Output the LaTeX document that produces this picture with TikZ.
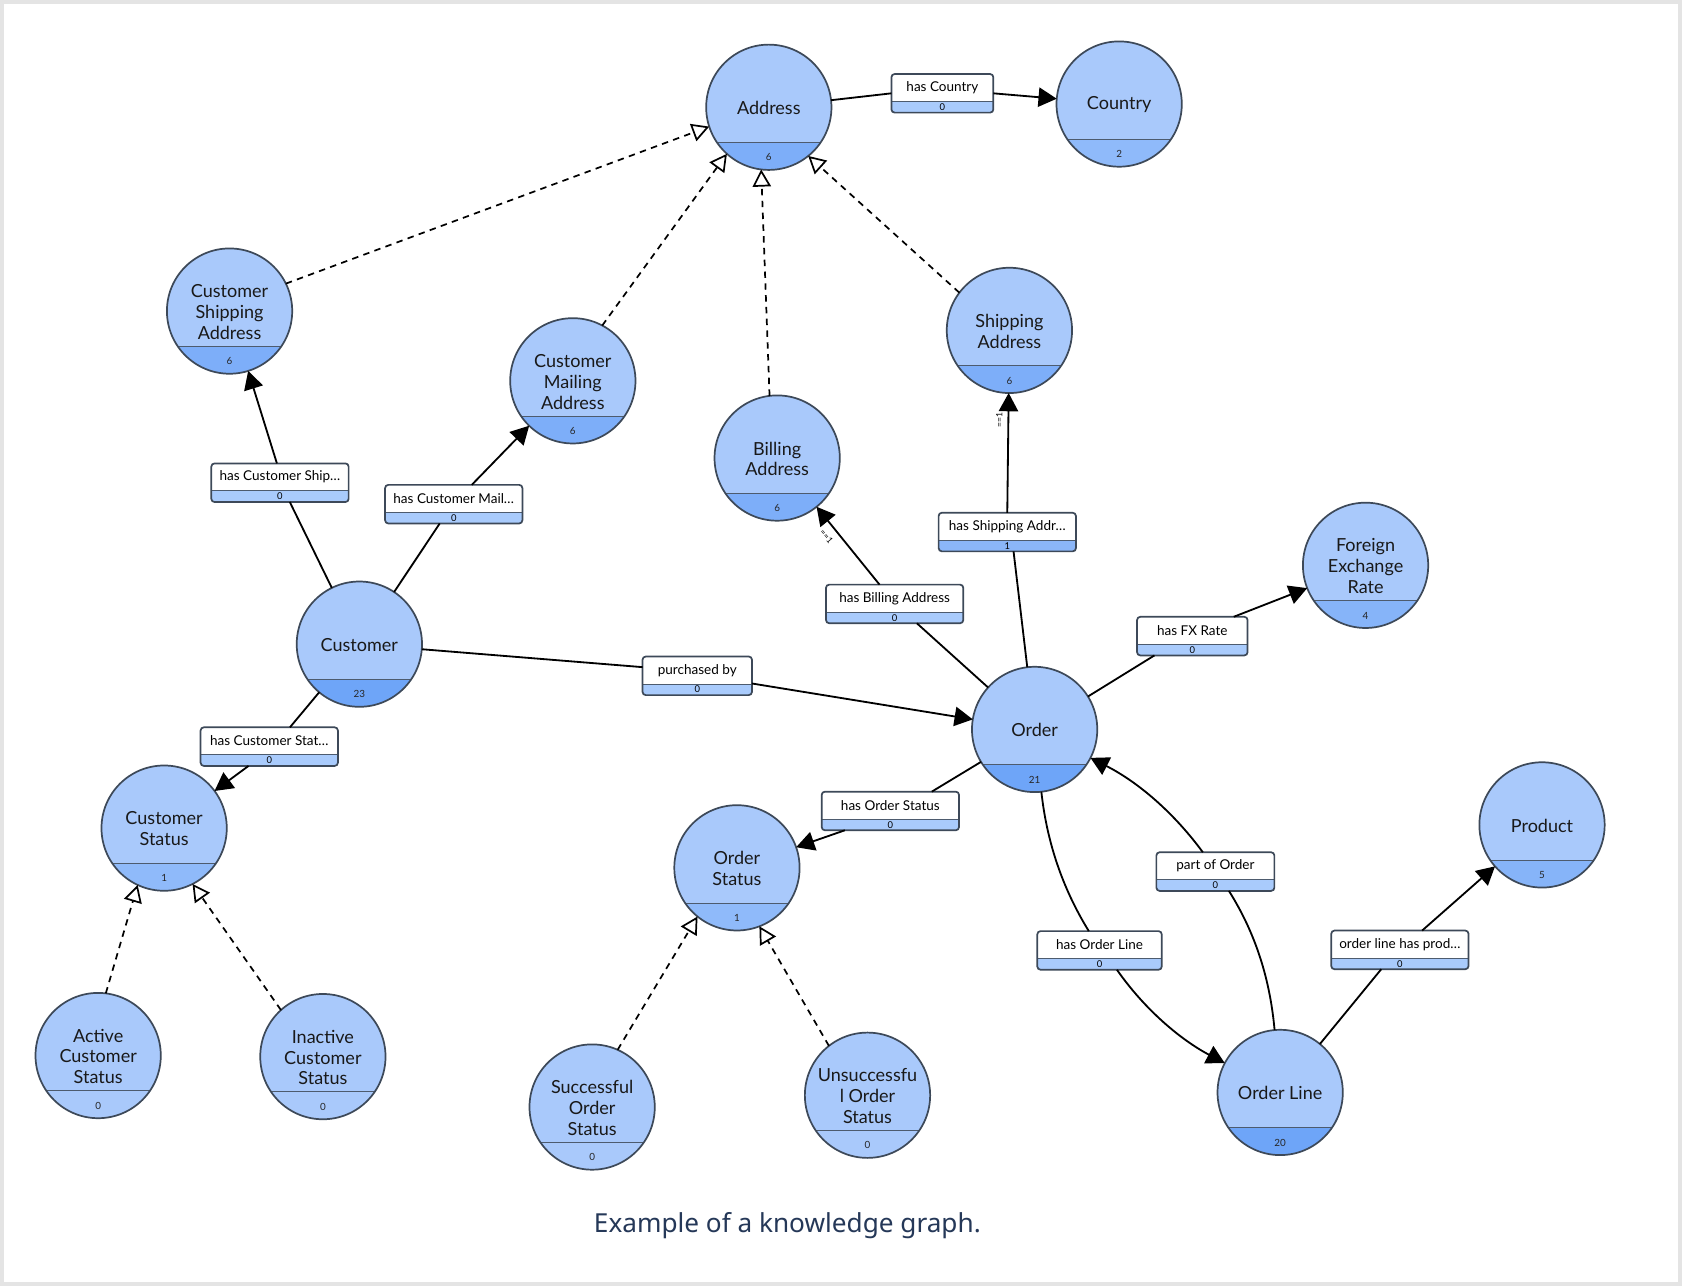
\documentclass[tikz,border=0pt]{standalone}
\usepackage{fontspec}
\setmainfont{Lato}
\newfontfamily\capfont{Noto Sans}
\usetikzlibrary{arrows.meta,calc}
\definecolor{pagegray}{HTML}{E4E4E4}
\definecolor{nfill}{HTML}{A9C9FB}
\definecolor{bandA}{HTML}{8FBAFA}
\definecolor{bandB}{HTML}{86B4F9}
\definecolor{bandC}{HTML}{7DAEF9}
\definecolor{bandD}{HTML}{6EA5F8}
\definecolor{nline}{HTML}{3D4959}
\definecolor{sep}{HTML}{4D5B6E}
\definecolor{lband}{HTML}{A9CBFC}
\definecolor{lbandA}{HTML}{8BB6F8}
\definecolor{captclr}{HTML}{253858}
\tikzset{
  x=0.5pt, y=-0.5pt,
  clsbase/.style={circle, minimum size=58.4pt, inner sep=0pt, outer sep=0pt},
  nborder/.style={draw=nline, line width=0.8pt},
  sepline/.style={draw=sep, line width=0.4pt},
  ntext/.style={font=\fontsize{8.4}{9.75}\selectfont, align=center, text=black!90, inner sep=0pt},
  ncount/.style={font=\fontsize{4.6}{5}\selectfont, text=black!85, inner sep=0pt},
  lboxshape/.style={rectangle, minimum height=18pt, inner sep=0pt, outer sep=0pt},
  lborder/.style={draw=nline, line width=0.8pt, rounded corners=1.5pt},
  ltext/.style={font=\fontsize{6.3}{7}\selectfont, inner sep=0pt},
  lcount/.style={font=\fontsize{4.4}{5}\selectfont, inner sep=0pt},
  rel/.style={draw=black, line width=0.85pt},
  reltip/.style={rel, -{Triangle[length=8.5pt,width=9pt]}},
  isa/.style={draw=black, line width=0.8pt, dash pattern=on 3pt off 2.5pt, -{Triangle[open,length=8pt,width=8.5pt,line width=0.8pt]}},
  eqlbl/.style={font=\fontsize{4}{4.5}\selectfont, inner sep=0pt},
}
% class node: name, x, y, text, count, band colour
\newcommand\cls[6]{%
  \node[clsbase] (#1) at (#2,#3) {};
  \begin{scope}
    \clip (#1.center) circle[radius=29.2pt];
    \fill[nfill] (#1.center) circle[radius=29.2pt];
    \fill[#6] ($(#1.center)+(-30pt,-16.4pt)$) rectangle ($(#1.center)+(30pt,-30pt)$);
    \draw[sepline] ($(#1.center)+(-30pt,-16.4pt)$) -- ($(#1.center)+(30pt,-16.4pt)$);
  \end{scope}
  \draw[nborder] (#1.center) circle[radius=29.2pt];
  \node[ntext] (#1-t) at ($(#1.center)+(0,-0.4pt)$) {#4};
  \node[ncount] (#1-n) at ($(#1.center)+(0,-23.4pt)$) {#5};
}
% label box: name, x, y, width(px), text, count, band colour
\newcommand\lbl[7]{%
  \node[lboxshape, minimum width=#4*0.5pt] (#1) at (#2,#3) {};
  \begin{scope}
    \clip[rounded corners=1.5pt] (#1.north west) rectangle (#1.south east);
    \fill[white] (#1.north west) rectangle (#1.south east);
    \fill[#7] ($(#1.south west)+(0,5.2pt)$) rectangle (#1.south east);
    \draw[sepline] ($(#1.south west)+(0,5.2pt)$) -- ($(#1.south east)+(0,5.2pt)$);
  \end{scope}
  \draw[lborder] (#1.north west) rectangle (#1.south east);
  \node[ltext] (#1-t) at ($(#1.north)+(0,-6.4pt)$) {#5};
  \node[lcount] (#1-n) at ($(#1.south)+(0,2.6pt)$) {#6};
}
\begin{document}
\begin{tikzpicture}
\useasboundingbox (0,0) rectangle (1568,1199);
\fill[pagegray] (0,0) rectangle (1568,1199);
\fill[white] (3.3,3.7) rectangle (1564.3,1195);

% class nodes
\cls{Address}{716.7}{100}{Address}{6}{bandC}
\cls{Country}{1043.3}{97}{Country}{2}{bandA}
\cls{CSA}{214}{290}{Customer\\Shipping\\Address}{6}{bandC}
\cls{CMA}{534}{355}{Customer\\Mailing\\Address}{6}{bandC}
\cls{Billing}{724.5}{427}{Billing\\Address}{6}{bandC}
\cls{SA}{941}{308}{Shipping\\Address}{6}{bandC}
\cls{Customer}{335}{600.5}{Customer}{23}{bandD}
\cls{Order}{964.5}{680}{Order}{21}{bandD}
\cls{FX}{1273}{527}{Foreign\\Exchange\\Rate}{4}{bandB}
\cls{CS}{153}{772}{Customer\\Status}{1}{bandA}
\cls{OS}{687}{809}{Order\\Status}{1}{bandA}
\cls{Product}{1437.5}{769}{Product}{5}{bandB}
\cls{Active}{91.5}{984}{Active\\Customer\\Status}{0}{nfill}
\cls{Inactive}{301}{985}{Inactive\\Customer\\Status}{0}{nfill}
\cls{Succ}{552}{1032}{Successful\\Order\\Status}{0}{nfill}
\cls{Unsucc}{808.7}{1021}{Unsuccessfu\\l Order\\Status}{0}{nfill}
\cls{OL}{1193.4}{1018.4}{Order Line}{20}{bandD}

% relation label boxes
\lbl{hasCountry}{878.5}{87}{95}{has Country}{0}{lband}
\lbl{hasCSA}{261}{450}{128}{has Customer Ship…}{0}{lband}
\lbl{hasCMA}{423}{470}{128}{has Customer Mail…}{0}{lband}
\lbl{purchasedBy}{650}{630}{102}{purchased by}{0}{lband}
\lbl{hasCS}{251}{696}{128}{has Customer Stat…}{0}{lband}
\lbl{hasBA}{834}{563}{128}{has Billing Address}{0}{lband}
\lbl{hasSA}{939}{496}{128}{has Shipping Addr…}{1}{lbandA}
\lbl{hasFX}{1111.5}{593}{103}{has FX Rate}{0}{lband}
\lbl{hasOS}{830}{756}{128}{has Order Status}{0}{lband}
\lbl{partOf}{1133}{812.5}{110}{part of Order}{0}{lband}
\lbl{hasOL}{1025}{886}{116}{has Order Line}{0}{lband}
\lbl{olProd}{1305}{885.5}{128}{order line has prod…}{0}{lband}

% relations
\draw[rel] (Address) -- (hasCountry.west);
\draw[reltip] (hasCountry.east) -- (Country);
\draw[rel] (Customer) -- (hasCSA.297);
\draw[reltip] (hasCSA.99) -- (CSA);
\draw[rel] (Customer) -- (hasCMA.234);
\draw[reltip] (hasCMA.47) -- (CMA);
\draw[rel] (Customer) -- (purchasedBy.171);
\draw[reltip] (purchasedBy.-8) -- (Order);
\draw[rel] (Customer) -- (hasCS.43);
\draw[reltip] (hasCS.223) -- (CS);
\draw[rel] (Order) -- (hasBA.319);
\draw[reltip] (hasBA.128) -- (Billing);
\draw[rel] (Order) -- (hasSA.288);
\draw[reltip] (hasSA.north) -- (SA);
\draw[rel] (Order) -- (hasFX.207);
\draw[reltip] (hasFX.25) -- (FX);
\draw[rel] (Order) -- (hasOS.25);
\draw[reltip] (hasOS.203) -- (OS);
\draw[rel] (Order) .. controls (975.7,783.6) and (989.9,827.3) .. (hasOL.119);
\draw[reltip] (hasOL.312) .. controls (1067.4,941.5) and (1100.9,969.4) .. (OL);
\draw[rel] (OL) .. controls (1184,913.5) and (1170.8,870.5) .. (partOf.305);
\draw[reltip] (partOf.123) .. controls (1094.5,758) and (1061.5,729.4) .. (Order);
\draw[rel] (OL) -- (olProd.226);
\draw[reltip] (olProd.41) -- (Product);

% subclass links
\draw[isa] (CSA.26) -- (Address.198);
\draw[isa] (CMA.62) -- (Address.228);
\draw[isa] (Billing.97) -- (Address.263);
\draw[isa] (SA.143) -- (Address.309);
\draw[isa] (Active.83) -- (CS.245);
\draw[isa] (Inactive.132) -- (CS.297);
\draw[isa] (Succ.66) -- (OS.231);
\draw[isa] (Unsucc.128) -- (OS.291);

% cardinality labels
\node[eqlbl, rotate=-50] (eq1) at (770.6,500.3) {==1};
\node[eqlbl, rotate=90] (eq2) at (931.6,391.5) {==1};

% caption
\node[font=\capfont\fontsize{12.2}{14}\selectfont, text=captclr, inner sep=0pt] (caption) at (734,1143) {Example of a knowledge graph.};
\end{tikzpicture}
\end{document}
